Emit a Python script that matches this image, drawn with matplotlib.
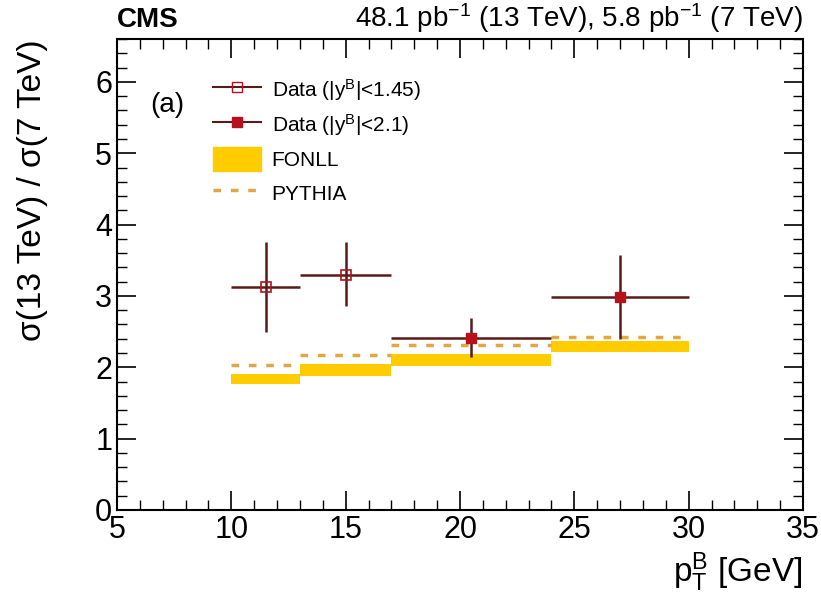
import matplotlib
matplotlib.use("Agg")
import matplotlib.pyplot as plt
from matplotlib.ticker import MultipleLocator
from matplotlib.patches import Patch
from matplotlib.lines import Line2D
import numpy as np

plt.rcParams["font.family"] = ["Liberation Sans", "DejaVu Sans"]
plt.rcParams["mathtext.fontset"] = "custom"
plt.rcParams["mathtext.rm"] = "Liberation Sans"
plt.rcParams["mathtext.it"] = "Liberation Sans"

# data (|y^B| < 1.45), open squares
x_open = [11.5, 15.0]
xlo_open = [10.0, 13.0]
xhi_open = [13.0, 17.0]
y_open = [3.12, 3.30]
ylo_open = [2.50, 2.86]
yhi_open = [3.76, 3.76]

# data (|y^B| < 2.1), filled
x_full = [20.5, 27.0]
xlo_full = [17.0, 24.0]
xhi_full = [24.0, 30.0]
y_full = [2.41, 2.98]
ylo_full = [2.15, 2.40]
yhi_full = [2.69, 3.58]

# theory per bin
bin_edges = [10, 13, 17, 24, 30]
fonll_lo = [1.77, 1.88, 2.02, 2.21]
fonll_hi = [1.91, 2.05, 2.19, 2.37]
pythia = [2.03, 2.17, 2.31, 2.42]

red = "#b5121b"
dark = "#5a1a1a"
gold = "#ffcc00"
orange = "#e3a645"

fig = plt.figure(figsize=(8.21, 5.93), dpi=100)
ax = fig.add_axes([0.1425, 0.14, 0.8356, 0.794])

for i in range(len(fonll_lo)):
    ax.fill_between([bin_edges[i], bin_edges[i + 1]], fonll_lo[i], fonll_hi[i],
                    color=gold, lw=0, zorder=1)
    ax.plot([bin_edges[i], bin_edges[i + 1]], [pythia[i], pythia[i]],
            ls=(0, (2.2, 2.8)), color=orange, lw=2.5, zorder=2)

def errs(x, lo, hi):
    return [np.array(x) - np.array(lo), np.array(hi) - np.array(x)]

ax.errorbar(x_open, y_open, xerr=errs(x_open, xlo_open, xhi_open),
            yerr=errs(y_open, ylo_open, yhi_open), fmt="s", ms=7, mfc="none",
            mec=red, mew=1.2, ecolor=dark, elinewidth=1.8, capsize=0, zorder=3)
ax.errorbar(x_full, y_full, xerr=errs(x_full, xlo_full, xhi_full),
            yerr=errs(y_full, ylo_full, yhi_full), fmt="s", ms=7, mfc=red,
            mec=red, ecolor=dark, elinewidth=1.8, capsize=0, zorder=3)

ax.set_xlim(5, 35)
ax.set_ylim(0, 6.6)
ax.xaxis.set_major_locator(MultipleLocator(5))
ax.xaxis.set_minor_locator(MultipleLocator(1))
ax.yaxis.set_major_locator(MultipleLocator(1))
ax.yaxis.set_minor_locator(MultipleLocator(0.2))
ax.tick_params(which="both", direction="in", top=True, right=True, labelsize=22)
ax.tick_params(which="major", length=14, width=1.2)
ax.tick_params(which="minor", length=7, width=1.0)
for s in ax.spines.values():
    s.set_linewidth(1.5)

ax.set_ylabel("σ(13 TeV) / σ(7 TeV)", fontsize=24, loc="top", labelpad=34)
ax.set_xlabel("$\\mathregular{p_T^B}$ [GeV]", fontsize=24, loc="right")

ax.text(0.0, 1.012, "CMS", transform=ax.transAxes, fontsize=20,
        fontweight="bold", ha="left", va="bottom")
ax.text(1.0, 1.008, "48.1 pb$^{\\mathregular{-1}}$ (13 TeV), 5.8 pb$^{\\mathregular{-1}}$ (7 TeV)",
        transform=ax.transAxes, fontsize=20, ha="right", va="bottom")
ax.text(6.45, 5.68, "(a)", fontsize=20, va="center")

handles = [
    Line2D([], [], color=dark, marker="s", mfc="none", mec=red, ms=7, lw=1.5),
    Line2D([], [], color=dark, marker="s", mfc=red, mec=red, ms=7, lw=1.5),
    Patch(color=gold),
    Line2D([], [], color=orange, ls=(0, (2.2, 2.8)), lw=2.5),
]
labels = ["Data (|y$^{\\mathregular{B}}$|<1.45)", "Data (|y$^{\\mathregular{B}}$|<2.1)",
          "FONLL", "PYTHIA"]
ax.legend(handles, labels, loc="upper left", bbox_to_anchor=(0.113, 0.96),
          frameon=False, fontsize=15, handlelength=2.3, handleheight=1.4,
          handletextpad=0.5, labelspacing=0.45)

fig.savefig("out.png", dpi=100)
